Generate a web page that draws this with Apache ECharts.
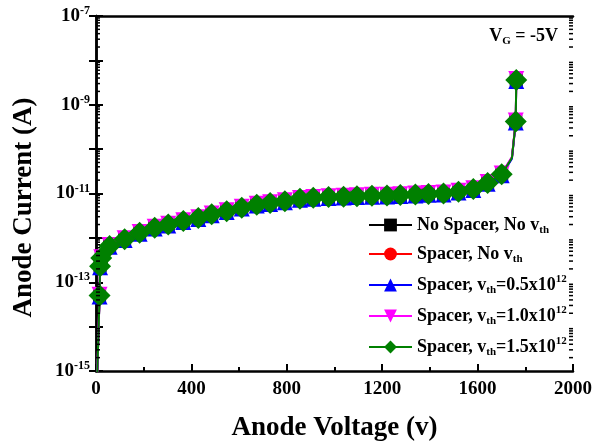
<!DOCTYPE html>
<html>
<head>
<meta charset="utf-8">
<script src="https://cdn.jsdelivr.net/npm/echarts@6/dist/echarts.min.js"></script>
<style>
html,body{margin:0;padding:0;background:#fff;}
#chart{width:611px;height:447px;}
</style>
</head>
<body>
<div id="chart"></div>
<script>
// ---- data ----
const voltages = [0, 15, 17, 22, 57, 120, 183, 246, 303, 366, 429, 485, 548, 611, 674, 730, 792, 855, 911, 975, 1038, 1094, 1157, 1220, 1276, 1339, 1394, 1457, 1520, 1582, 1642, 1701, 1744, 1760, 1762];
const unmarkedVoltages = [0, 1744];

const iNoSpacer = [1e-16, 5.1e-14, 2.35e-13, 3.55e-13, 6.7e-13, 9.5e-13, 1.32e-12, 1.73e-12, 2.03e-12, 2.44e-12, 2.84e-12, 3.45e-12, 4.06e-12, 4.87e-12, 5.68e-12, 6.19e-12, 6.8e-12, 7.71e-12, 8.12e-12, 8.42e-12, 8.63e-12, 8.83e-12, 9.03e-12, 9.14e-12, 9.34e-12, 9.64e-12, 9.95e-12, 1.015e-11, 1.12e-11, 1.28e-11, 1.76e-11, 2.74e-11, 6.5e-11, 4.26e-10, 3.65e-9];
const iSpacerNoVth = [1e-16, 4.9e-14, 2.25e-13, 3.45e-13, 6.5e-13, 9.2e-13, 1.28e-12, 1.68e-12, 1.97e-12, 2.37e-12, 2.76e-12, 3.35e-12, 3.94e-12, 4.73e-12, 5.52e-12, 6.0e-12, 6.6e-12, 7.5e-12, 7.9e-12, 8.2e-12, 8.4e-12, 8.6e-12, 8.8e-12, 8.9e-12, 9.1e-12, 9.4e-12, 9.7e-12, 9.9e-12, 1.09e-11, 1.24e-11, 1.7e-11, 2.65e-11, 6.3e-11, 4.15e-10, 3.55e-9];
const iVth05 = [1e-16, 4.75e-14, 2.18e-13, 3.33e-13, 6.3e-13, 8.9e-13, 1.24e-12, 1.62e-12, 1.91e-12, 2.29e-12, 2.67e-12, 3.24e-12, 3.81e-12, 4.58e-12, 5.34e-12, 5.81e-12, 6.38e-12, 7.24e-12, 7.62e-12, 7.91e-12, 8.1e-12, 8.29e-12, 8.48e-12, 8.57e-12, 8.76e-12, 9.05e-12, 9.34e-12, 9.52e-12, 1.05e-11, 1.2e-11, 1.65e-11, 2.57e-11, 6.1e-11, 4.0e-10, 3.43e-9];
const iVth10 = [1e-16, 5.25e-14, 2.42e-13, 3.68e-13, 6.9e-13, 9.75e-13, 1.36e-12, 1.78e-12, 2.09e-12, 2.51e-12, 2.93e-12, 3.56e-12, 4.19e-12, 5.03e-12, 5.87e-12, 6.39e-12, 7.02e-12, 7.96e-12, 8.38e-12, 8.69e-12, 8.9e-12, 9.11e-12, 9.32e-12, 9.43e-12, 9.64e-12, 9.95e-12, 1.03e-11, 1.05e-11, 1.15e-11, 1.32e-11, 1.81e-11, 2.83e-11, 6.7e-11, 4.4e-10, 3.78e-9];
const iVth15 = [1e-16, 5.0e-14, 2.3e-13, 3.5e-13, 6.6e-13, 9.3e-13, 1.3e-12, 1.7e-12, 2.0e-12, 2.4e-12, 2.8e-12, 3.4e-12, 4.0e-12, 4.8e-12, 5.6e-12, 6.1e-12, 6.7e-12, 7.6e-12, 8.0e-12, 8.3e-12, 8.5e-12, 8.7e-12, 8.9e-12, 9.0e-12, 9.2e-12, 9.5e-12, 9.8e-12, 1.0e-11, 1.1e-11, 1.26e-11, 1.73e-11, 2.7e-11, 6.4e-11, 4.2e-10, 3.6e-9];

const seriesNames = ['No Spacer, No vth', 'Spacer, No vth', 'Spacer, vth=0.5x10^12', 'Spacer, vth=1.0x10^12', 'Spacer, vth=1.5x10^12'];
const legendLabels = [
  '{b|No Spacer, No v}{sub|th}',
  '{b|Spacer, No v}{sub|th}',
  '{b|Spacer, v}{sub|th}{b|=0.5x10}{sup|12}',
  '{b|Spacer, v}{sub|th}{b|=1.0x10}{sup|12}',
  '{b|Spacer, v}{sub|th}{b|=1.5x10}{sup|12}'
];
const xTicks = [0, 400, 800, 1200, 1600, 2000];
const yLabelExponents = [-15, -13, -11, -9, -7];

// minor log tick positions (2..9 x 10^k)
const minorTickValues = [];
for (let e = -15; e < -7; e++) {
  for (let m = 2; m <= 9; m++) minorTickValues.push(m * Math.pow(10, e));
}

const FONT = 'Liberation Serif, Times New Roman, serif';

function build(values) {
  return voltages.map((v, i) => {
    const item = { value: [v, values[i]] };
    if (unmarkedVoltages.indexOf(v) >= 0) item.symbol = 'none';
    return item;
  });
}

const styles = [
  { color: '#000000', symbol: 'rect', size: 13, rotate: 0 },
  { color: '#ff0000', symbol: 'circle', size: 14, rotate: 0 },
  { color: '#0000ff', symbol: 'triangle', size: 16, rotate: 0 },
  { color: '#ff00ff', symbol: 'triangle', size: 16, rotate: 180 },
  { color: '#008000', symbol: 'diamond', size: 22, rotate: 0 }
];
const allValues = [iNoSpacer, iSpacerNoVth, iVth05, iVth10, iVth15];

const series = allValues.map((vals, k) => ({
  name: seriesNames[k],
  type: 'line',
  data: build(vals),
  symbol: styles[k].symbol,
  symbolSize: styles[k].size,
  symbolRotate: styles[k].rotate,
  showAllSymbol: true,
  clip: true,
  itemStyle: { color: styles[k].color },
  lineStyle: { color: styles[k].color, width: 2 },
  z: 2 + k,
  animation: false
}));

series.push({
  type: 'custom',
  silent: true,
  animation: false,
  z: 10,
  data: minorTickValues.map(v => [0, v]),
  encode: { x: 0, y: 1 },
  renderItem: function (params, api) {
    const v = api.value(1);
    const pL = api.coord([0, v]);
    const pR = api.coord([2000, v]);
    const st = { stroke: '#000', lineWidth: 1.5 };
    return {
      type: 'group',
      children: [
        { type: 'line', shape: { x1: pL[0], y1: pL[1], x2: pL[0] + 4, y2: pL[1] }, style: st },
        { type: 'line', shape: { x1: pR[0] - 4, y1: pR[1], x2: pR[0], y2: pR[1] }, style: st }
      ]
    };
  }
});

const supRich = {
  b: { fontFamily: FONT, fontWeight: 'bold', fontSize: 19, color: '#000', lineHeight: 22 },
  s: { fontFamily: FONT, fontWeight: 'bold', fontSize: 12, color: '#000', lineHeight: 10, verticalAlign: 'top' }
};

const chart = echarts.init(document.getElementById('chart'), null, { renderer: 'canvas' });
chart.setOption({
  backgroundColor: '#fff',
  animation: false,
  grid: { left: 96, right: 38, top: 16, bottom: 75, containLabel: false },
  title: {
    text: '{b|V}{s|G}{b| = -5V}',
    right: 48,
    top: 20,
    textStyle: {
      rich: {
        b: { fontFamily: FONT, fontWeight: 'bold', fontSize: 18, color: '#000', lineHeight: 22 },
        s: { fontFamily: FONT, fontWeight: 'bold', fontSize: 11, color: '#000', lineHeight: 10, verticalAlign: 'bottom' }
      }
    }
  },
  legend: {
    data: seriesNames,
    orient: 'vertical',
    left: 363,
    top: 211,
    itemWidth: 43,
    itemHeight: 16,
    itemGap: 9,
    selectedMode: false,
    formatter: function (name) { return legendLabels[seriesNames.indexOf(name)]; },
    textStyle: {
      padding: [0, 0, 0, 0],
      rich: {
        b: { fontFamily: FONT, fontWeight: 'bold', fontSize: 18, color: '#000', lineHeight: 22 },
        sub: { fontFamily: FONT, fontWeight: 'bold', fontSize: 11, color: '#000', lineHeight: 9, verticalAlign: 'bottom' },
        sup: { fontFamily: FONT, fontWeight: 'bold', fontSize: 11, color: '#000', lineHeight: 10, verticalAlign: 'top' }
      }
    }
  },
  xAxis: [{
    type: 'value',
    min: 0,
    max: 2000,
    interval: 400,
    name: 'Anode Voltage (v)',
    nameLocation: 'middle',
    nameGap: 44,
    nameTextStyle: { fontFamily: FONT, fontWeight: 'bold', fontSize: 27, color: '#000' },
    axisLine: { show: true, lineStyle: { color: '#000', width: 2.5 } },
    axisTick: { show: true, inside: true, length: 7, lineStyle: { color: '#000', width: 2 } },
    minorTick: { show: true, splitNumber: 2, length: 4, lineStyle: { color: '#000', width: 2 } },
    axisLabel: {
      margin: 9,
      fontFamily: FONT, fontWeight: 'bold', fontSize: 19, color: '#000',
      formatter: function (v) { return xTicks.indexOf(v) >= 0 ? String(v) : ''; }
    },
    splitLine: { show: false }
  }, {
    type: 'value',
    position: 'top',
    min: 0,
    max: 2000,
    axisLine: { show: true, onZero: false, lineStyle: { color: '#000', width: 2.5 } },
    axisTick: { show: false },
    axisLabel: { show: false },
    splitLine: { show: false }
  }],
  yAxis: [{
    type: 'log',
    logBase: 10,
    min: 1e-15,
    max: 1e-7,
    splitNumber: 8,
    name: 'Anode Current (A)',
    nameLocation: 'middle',
    nameGap: 58,
    nameTextStyle: { fontFamily: FONT, fontWeight: 'bold', fontSize: 27, color: '#000', padding: [0, 28, 0, 0] },
    axisLine: { show: true, lineStyle: { color: '#000', width: 2.5 } },
    axisTick: { show: true, inside: true, length: 7, lineStyle: { color: '#000', width: 2 } },
    axisLabel: {
      margin: 6,
      formatter: function (v) {
        const e = Math.round(Math.log10(v));
        return yLabelExponents.indexOf(e) >= 0 ? '{b|10}{s|' + e + '}' : '';
      },
      rich: supRich
    },
    splitLine: { show: false }
  }, {
    type: 'log',
    logBase: 10,
    min: 1e-15,
    max: 1e-7,
    splitNumber: 8,
    position: 'right',
    axisLine: { show: true, lineStyle: { color: '#000', width: 2.5 } },
    axisTick: { show: true, inside: true, length: 7, lineStyle: { color: '#000', width: 2 } },
    axisLabel: { show: false },
    splitLine: { show: false }
  }],
  series: series
});
</script>
</body>
</html>
